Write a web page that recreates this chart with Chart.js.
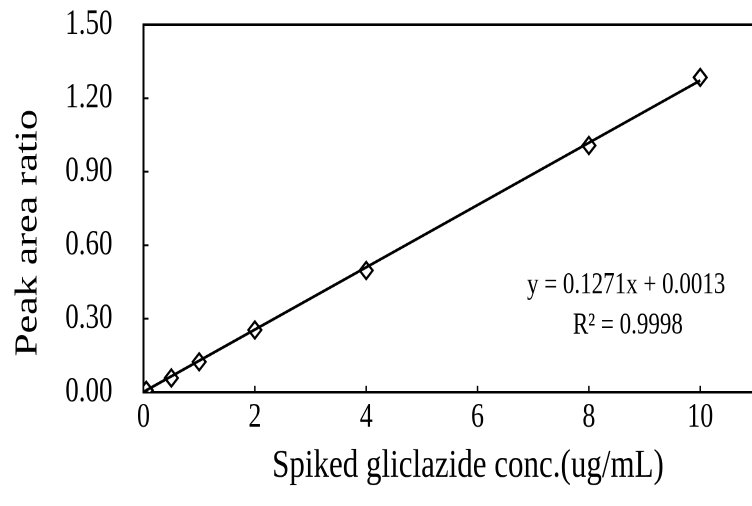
<!DOCTYPE html>
<html>
<head>
<meta charset="utf-8">
<script src="https://cdn.jsdelivr.net/npm/chart.js@4/dist/chart.umd.min.js"></script>
<style>
  html, body { margin: 0; background: #fff; overflow: hidden; height: 506px; }
  /* the scanned figure is taller than it is wide, so stretch the drawing vertically */
  #wrap { position: relative; width: 752px; height: 389px; transform: scaleY(1.3008); transform-origin: 0 0; }
</style>
</head>
<body>
<div id="wrap"><canvas id="calChart"></canvas></div>
<script>
// spiked concentration (ug/mL) and measured peak area ratio
let conc = [0.05, 0.5, 1, 2, 4, 8, 10];
let ratio = [0.008, 0.058, 0.124, 0.254, 0.497, 1.007, 1.285];

// linear fit shown on the chart
let slope = 0.1271;
let intercept = 0.0013;
let fitX = [0, 10];

let xTicks = [0, 2, 4, 6, 8, 10];
let yTicks = [0, 0.3, 0.6, 0.9, 1.2, 1.5];

let xTitle = "Spiked gliclazide conc.(ug/mL)";
let yTitle = "Peak area ratio";
let eqText = "y = 0.1271x + 0.0013";
let r2Text = "R² = 0.9998";

const serif = "'Liberation Serif', 'Times New Roman', serif";

let points = conc.map((c, i) => ({ x: c, y: ratio[i] }));
let fitLine = fitX.map(x => ({ x: x, y: slope * x + intercept }));

// top frame line, small inward ticks, axis titles and the equation text
const extras = {
    id: "extras",
    afterDraw(chart) {
        let ctx = chart.ctx;
        let area = chart.chartArea;
        let xs = chart.scales.x;
        let ys = chart.scales.y;
        ctx.save();
        ctx.strokeStyle = "#000";
        ctx.lineWidth = 2;
        ctx.beginPath();
        ctx.moveTo(area.left - 1, area.top);
        ctx.lineTo(area.right, area.top);
        ctx.stroke();

        ctx.lineWidth = 1.5;
        yTicks.forEach(v => {
            let py = ys.getPixelForValue(v);
            ctx.beginPath();
            ctx.moveTo(area.left, py);
            ctx.lineTo(area.left + 5, py);
            ctx.stroke();
        });
        xTicks.forEach(v => {
            let px = xs.getPixelForValue(v);
            ctx.beginPath();
            ctx.moveTo(px, area.bottom);
            ctx.lineTo(px, area.bottom - 5);
            ctx.stroke();
        });

        ctx.fillStyle = "#000";
        ctx.textAlign = "center";
        ctx.textBaseline = "middle";
        ctx.font = "23px " + serif;
        ctx.fillText(eqText, xs.getPixelForValue(8.67), ys.getPixelForValue(0.435));
        ctx.fillText(r2Text, xs.getPixelForValue(8.7), ys.getPixelForValue(0.27));

        ctx.font = "31px " + serif;
        ctx.fillText(xTitle, 468, 358.5);

        ctx.font = "32px " + serif;
        ctx.translate(28, 179);
        ctx.rotate(-Math.PI / 2);
        ctx.fillText(yTitle, 0, 0);
        ctx.restore();
    }
};

new Chart(document.getElementById("calChart"), {
    type: "scatter",
    data: {
        datasets: [
            {
                label: "fit",
                type: "line",
                data: fitLine,
                borderColor: "#000",
                borderWidth: 2.2,
                pointRadius: 0,
                fill: false
            },
            {
                label: "samples",
                data: points,
                pointStyle: "rectRot",
                pointRadius: 6.5,
                pointBorderWidth: 2,
                pointBackgroundColor: "#fff",
                pointBorderColor: "#000"
            }
        ]
    },
    options: {
        responsive: true,
        maintainAspectRatio: false,
        animation: false,
        devicePixelRatio: 2,
        layout: { autoPadding: false, padding: { top: 19, right: 0, bottom: 0, left: 0 } },
        plugins: {
            legend: { display: false },
            tooltip: { enabled: false }
        },
        scales: {
            x: {
                type: "linear",
                min: 0,
                max: 10.93,
                afterBuildTicks: s => { s.ticks = xTicks.map(v => ({ value: v })); },
                afterFit: s => { s.height = 87.5; s.paddingRight = 0; s.paddingLeft = 0; },
                grid: { display: false, drawTicks: false },
                border: { display: true, color: "#000", width: 2 },
                ticks: {
                    padding: 4,
                    color: "#000",
                    font: { family: serif, size: 26 }
                }
            },
            y: {
                min: 0,
                max: 1.5,
                afterBuildTicks: s => { s.ticks = yTicks.map(v => ({ value: v })); },
                afterFit: s => { s.width = 143.5; s.paddingTop = 0; s.paddingBottom = 0; },
                grid: { display: false, drawTicks: false },
                border: { display: true, color: "#000", width: 2 },
                ticks: {
                    padding: 31,
                    color: "#000",
                    font: { family: serif, size: 27 },
                    callback: v => v.toFixed(2)
                }
            }
        }
    },
    plugins: [extras]
});
</script>
</body>
</html>
